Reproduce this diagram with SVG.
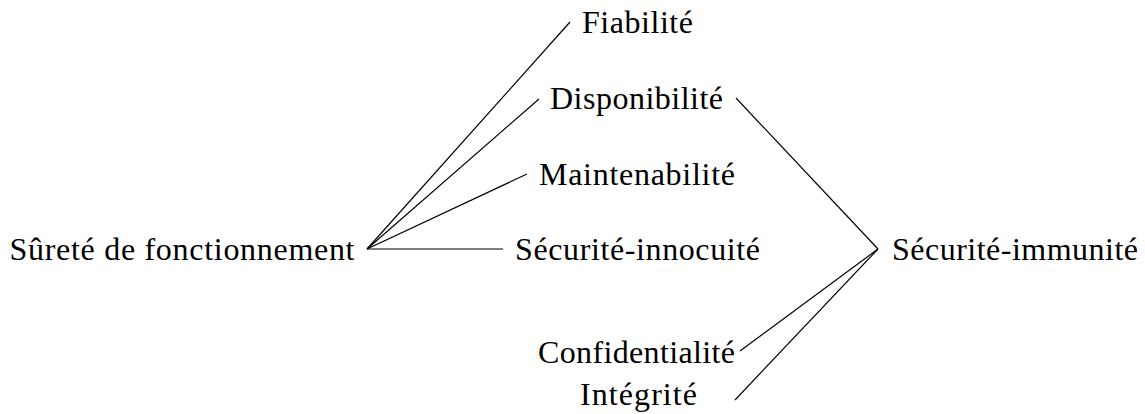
<svg xmlns="http://www.w3.org/2000/svg" width="1145" height="414" viewBox="0 0 1145 414">
<style>
text{font-family:"Liberation Serif","Times New Roman",serif;font-size:32px;fill:#000;text-anchor:middle}
.c line{stroke:#000;stroke-width:1.2;fill:none}
</style>
<rect width="1145" height="414" fill="#fff"/>
<g class="c" id="connectors">
<line x1="367" y1="249" x2="570" y2="22"/>
<line x1="367" y1="249" x2="539" y2="99"/>
<line x1="367" y1="249" x2="527" y2="174"/>
<line x1="367" y1="249" x2="503" y2="249"/>
<line x1="736" y1="98" x2="878" y2="249"/>
<line x1="740" y1="351" x2="878" y2="249"/>
<line x1="735" y1="400" x2="878" y2="249"/>
</g>
<g id="surete"><text x="182" y="260" textLength="345">Sûreté de fonctionnement</text></g>
<g id="fiabilite"><text x="637.5" y="33" textLength="111">Fiabilité</text></g>
<g id="disponibilite"><text x="636.5" y="109" textLength="173">Disponibilité</text></g>
<g id="maintenabilite"><text x="637" y="185" textLength="196">Maintenabilité</text></g>
<g id="innocuite"><text x="637.5" y="260" textLength="245">Sécurité-innocuité</text></g>
<g id="immunite"><text x="1015" y="260" textLength="246">Sécurité-immunité</text></g>
<g id="confidentialite"><text x="636.5" y="363" textLength="197">Confidentialité</text></g>
<g id="integrite"><text x="638.5" y="405" textLength="117">Intégrité</text></g>
</svg>
